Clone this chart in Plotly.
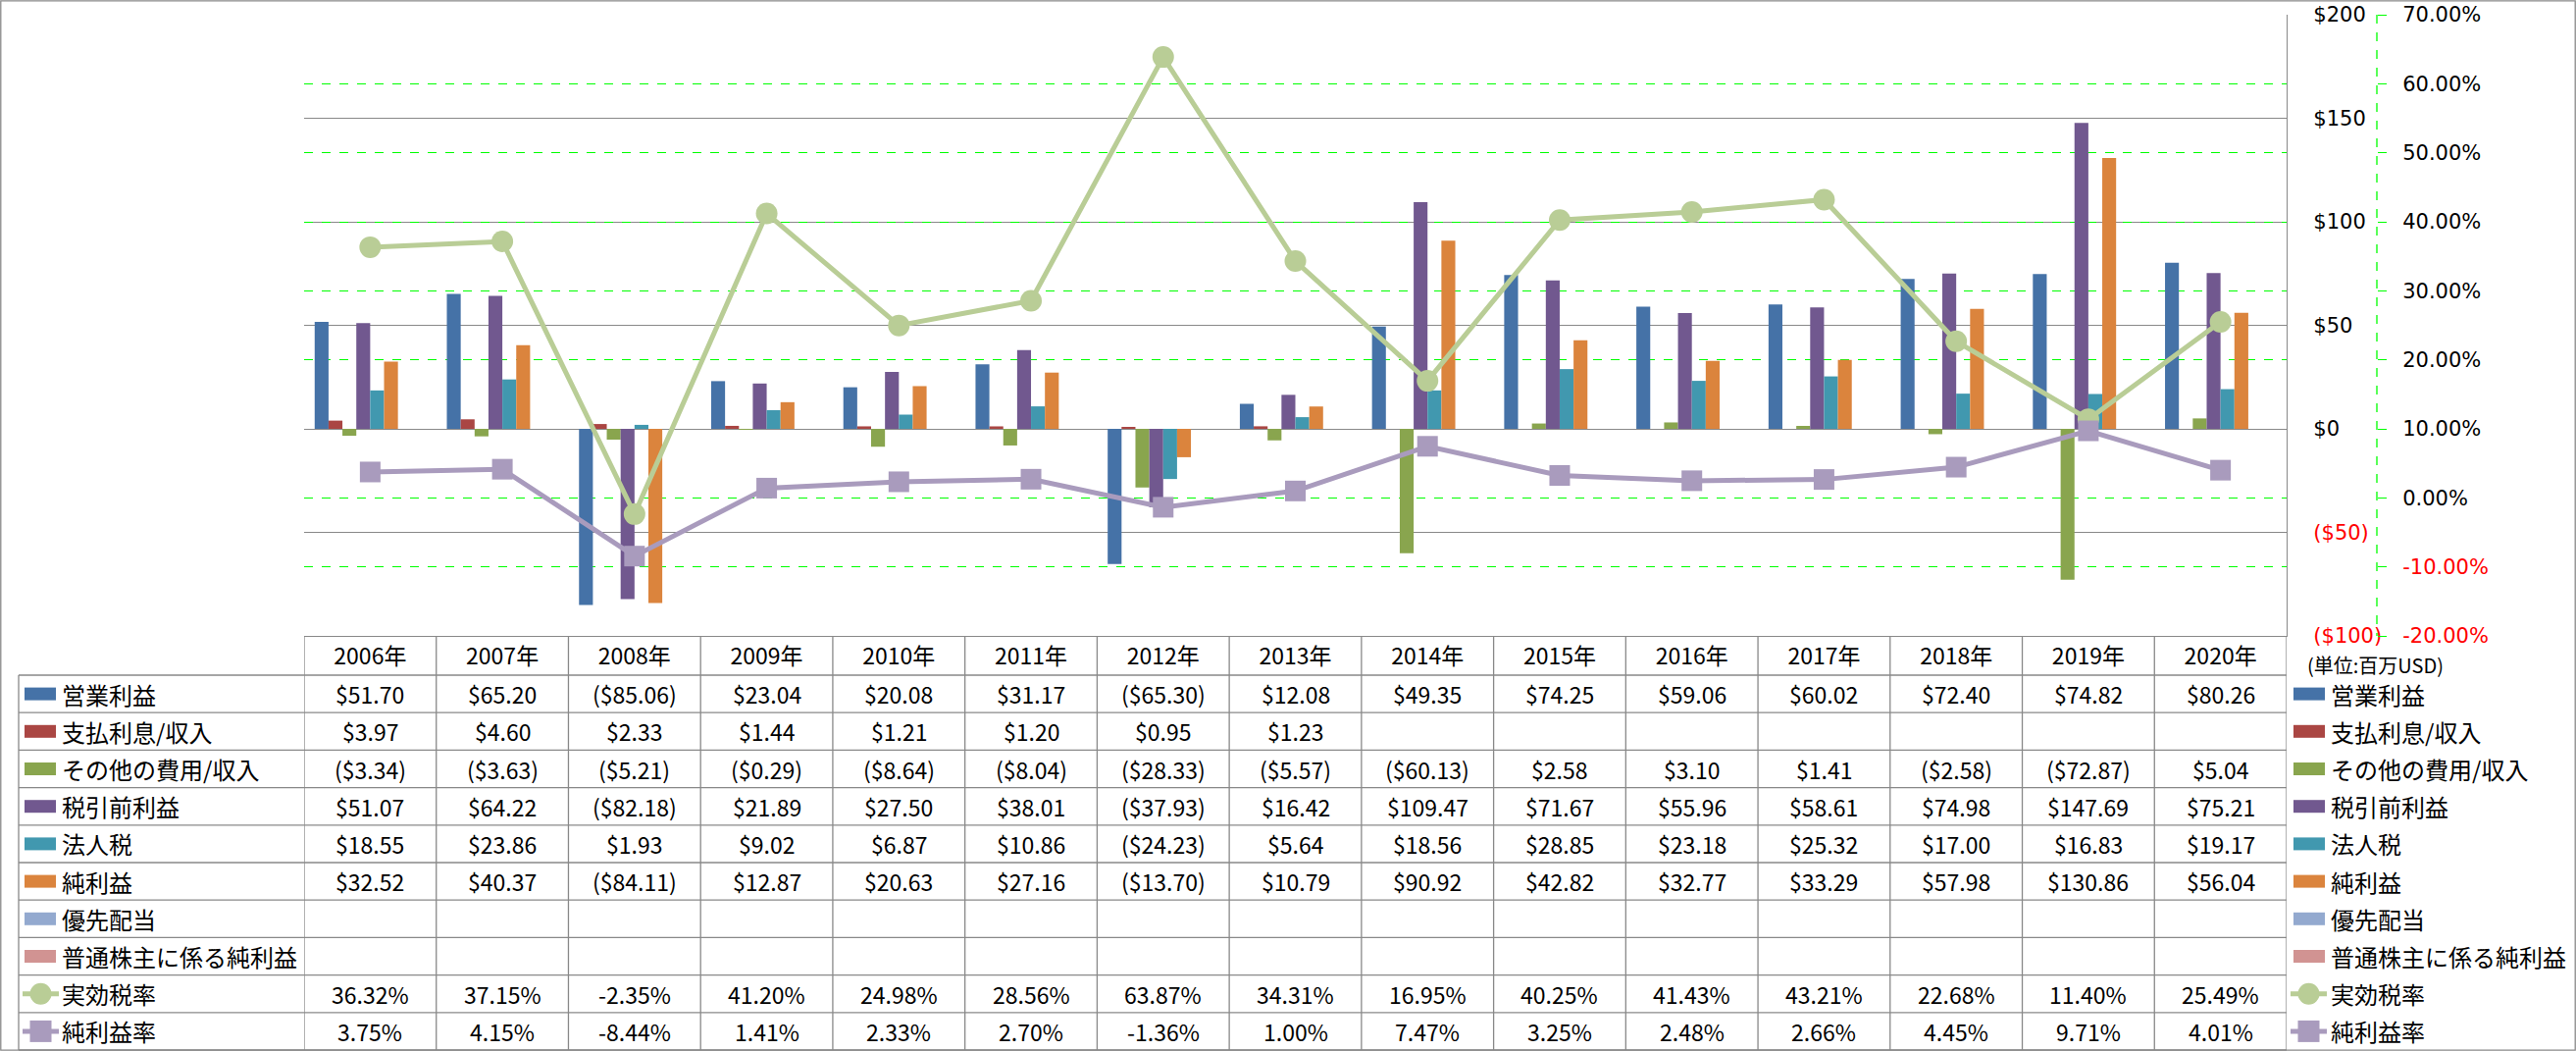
import plotly.graph_objects as go

W, H = 2626, 1071

# ---------------- data ----------------
years = ["2006年", "2007年", "2008年", "2009年", "2010年", "2011年", "2012年", "2013年",
         "2014年", "2015年", "2016年", "2017年", "2018年", "2019年", "2020年"]
op_income = [51.70, 65.20, -85.06, 23.04, 20.08, 31.17, -65.30, 12.08, 49.35, 74.25, 59.06, 60.02, 72.40, 74.82, 80.26]
interest = [3.97, 4.60, 2.33, 1.44, 1.21, 1.20, 0.95, 1.23, None, None, None, None, None, None, None]
other_exp = [-3.34, -3.63, -5.21, -0.29, -8.64, -8.04, -28.33, -5.57, -60.13, 2.58, 3.10, 1.41, -2.58, -72.87, 5.04]
pretax = [51.07, 64.22, -82.18, 21.89, 27.50, 38.01, -37.93, 16.42, 109.47, 71.67, 55.96, 58.61, 74.98, 147.69, 75.21]
income_tax = [18.55, 23.86, 1.93, 9.02, 6.87, 10.86, -24.23, 5.64, 18.56, 28.85, 23.18, 25.32, 17.00, 16.83, 19.17]
net_income = [32.52, 40.37, -84.11, 12.87, 20.63, 27.16, -13.70, 10.79, 90.92, 42.82, 32.77, 33.29, 57.98, 130.86, 56.04]
pref_div = [None] * 15
net_common = [None] * 15
eff_tax_rate = [36.32, 37.15, -2.35, 41.20, 24.98, 28.56, 63.87, 34.31, 16.95, 40.25, 41.43, 43.21, 22.68, 11.40, 25.49]
net_margin = [3.75, 4.15, -8.44, 1.41, 2.33, 2.70, -1.36, 1.00, 7.47, 3.25, 2.48, 2.66, 4.45, 9.71, 4.01]

bar_names = ["営業利益", "支払利息/収入", "その他の費用/収入", "税引前利益", "法人税", "純利益",
             "優先配当", "普通株主に係る純利益"]
bar_values = [op_income, interest, other_exp, pretax, income_tax, net_income, pref_div, net_common]
line_names = ["実効税率", "純利益率"]
line_values = [eff_tax_rate, net_margin]
y_ticks = [-100, -50, 0, 50, 100, 150, 200]
y2_ticks = [-20, -10, 0, 10, 20, 30, 40, 50, 60, 70]
unit_label = "(単位:百万USD)"

# ---------------- styles ----------------
bar_colors = ["#4572A7", "#AA4643", "#89A54E", "#71588F", "#4198AF", "#DB843D", "#93A9CF", "#D19392"]
line_colors = ["#B9CD96", "#A99BBD"]
line_symbols = ["circle", "square"]
GRAY = "#898989"
GREEN = "#00FF00"
FONT = "Noto Sans CJK JP"
AXFONT = "DejaVu Sans"


def px_x(p):
    return p / W


def px_y(p):
    return 1 - p / H


PLOT_L, PLOT_R, PLOT_T, PLOT_B = 310, 2331, 15, 648
ROW0, ROWH = 688, 38.2
Y2_AXIS_X = 2423


def fmt_usd(v):
    if v is None:
        return ""
    return f"(${abs(v):.2f})" if v < 0 else f"${v:.2f}"


def fmt_pct(v):
    return "" if v is None else f"{v:.2f}%"


def red(s):
    return f"<span style='color:#FF0000'>{s}</span>"


fig = go.Figure()

for name, vals, col in zip(bar_names, bar_values, bar_colors):
    fig.add_trace(go.Bar(x=years, y=vals, name=name, marker=dict(color=col, line=dict(width=0)),
                         yaxis="y", showlegend=False))

for name, vals, col, sym in zip(line_names, line_values, line_colors, line_symbols):
    fig.add_trace(go.Scatter(x=years, y=[v / 100 for v in vals], name=name, yaxis="y2",
                             mode="lines+markers", line=dict(color=col, width=5),
                             marker=dict(symbol=sym, size=22 if sym == "circle" else 21, color=col),
                             showlegend=False))

y_ticktext = [red(f"(${abs(v)})") if v < 0 else f"${v}" for v in y_ticks]
y2_ticktext = [red(f"{v:.2f}%") if v < 0 else f"{v:.2f}%" for v in y2_ticks]

shapes = []
annotations = []

row_names = bar_names + line_names
row_values = [[fmt_usd(v) for v in s] for s in bar_values] + [[fmt_pct(v) for v in s] for s in line_values]
n_rows = len(row_names)
TABLE_B = ROW0 + ROWH * n_rows

# horizontal table lines
for i in range(n_rows + 1):
    yy = ROW0 + ROWH * i
    shapes.append(dict(type="line", xref="paper", yref="paper", x0=px_x(19), x1=px_x(PLOT_R),
                       y0=px_y(yy), y1=px_y(yy), line=dict(color=GRAY, width=1.3)))
# left border of label column
shapes.append(dict(type="line", xref="paper", yref="paper", x0=px_x(19), x1=px_x(19),
                   y0=px_y(ROW0), y1=px_y(TABLE_B), line=dict(color=GRAY, width=1.3)))
# vertical column lines (category boundaries)
for k in range(len(years) + 1):
    shapes.append(dict(type="line", xref="x", yref="paper", x0=k - 0.5, x1=k - 0.5,
                       y0=px_y(PLOT_B), y1=px_y(TABLE_B), line=dict(color=GRAY, width=1.3)))


def legend_icon(idx, rect_x0, line_x0, cy):
    if idx < len(bar_names):
        shapes.append(dict(type="rect", xref="paper", yref="paper", x0=px_x(rect_x0), x1=px_x(rect_x0 + 32),
                           y0=px_y(cy - 6.5), y1=px_y(cy + 6.5), fillcolor=bar_colors[idx],
                           line=dict(width=0)))
    else:
        j = idx - len(bar_names)
        col = line_colors[j]
        shapes.append(dict(type="line", xref="paper", yref="paper", x0=px_x(line_x0), x1=px_x(line_x0 + 37),
                           y0=px_y(cy), y1=px_y(cy), line=dict(color=col, width=5)))
        mx = line_x0 + 18.5
        shapes.append(dict(type="circle" if j == 0 else "rect", xref="paper", yref="paper",
                           x0=px_x(mx - 11), x1=px_x(mx + 11), y0=px_y(cy - 11), y1=px_y(cy + 11),
                           fillcolor=col, line=dict(width=0)))


for i, (name, vals) in enumerate(zip(row_names, row_values)):
    cy = ROW0 + ROWH * (i + 0.5)
    legend_icon(i, 25, 23, cy)
    annotations.append(dict(text=name, xref="paper", yref="paper", x=px_x(61), y=px_y(cy),
                            xanchor="left", yanchor="middle", showarrow=False,
                            font=dict(family=FONT, size=24, color="black")))
    legend_icon(i, 2338, 2335, cy)
    annotations.append(dict(text=name, xref="paper", yref="paper", x=px_x(2374), y=px_y(cy),
                            xanchor="left", yanchor="middle", showarrow=False,
                            font=dict(family=FONT, size=24, color="black")))
    for yr, s in zip(years, vals):
        if s:
            annotations.append(dict(text=s, xref="x", yref="paper", x=yr, y=px_y(cy),
                                    xanchor="center", yanchor="middle", showarrow=False,
                                    font=dict(family=FONT, size=23, color="black")))

annotations.append(dict(text=unit_label, xref="paper", yref="paper", x=px_x(2350), y=px_y(677),
                        xanchor="left", yanchor="middle", showarrow=False,
                        font=dict(family=FONT, size=20, color="black")))

# secondary axis dashed line
shapes.append(dict(type="line", xref="paper", yref="paper", x0=px_x(Y2_AXIS_X), x1=px_x(Y2_AXIS_X),
                   y0=px_y(PLOT_T), y1=px_y(PLOT_B), line=dict(color=GREEN, width=1.3, dash="dash")))
# outer chart border
shapes.append(dict(type="rect", xref="paper", yref="paper", x0=0.0003, x1=0.9997, y0=0.0008, y1=0.9992,
                   line=dict(color=GRAY, width=1.3)))

fig.update_layout(
    template="none",
    width=W, height=H,
    margin=dict(l=0, r=0, t=0, b=0),
    paper_bgcolor="white", plot_bgcolor="rgba(0,0,0,0)",
    barmode="group", bargap=0.16, bargroupgap=0,
    showlegend=False,
    font=dict(family=FONT, color="black"),
    xaxis=dict(domain=[px_x(PLOT_L), px_x(PLOT_R)], type="category", categoryorder="array",
               categoryarray=years, range=[-0.5, len(years) - 0.5], autorange=False,
               showgrid=False, zeroline=False,
               showline=True, linecolor=GRAY, linewidth=1.3, ticks="",
               tickfont=dict(family=FONT, size=23, color="black"), ticklabelstandoff=0,
               automargin=False, anchor="y"),
    yaxis=dict(domain=[px_y(PLOT_B), px_y(PLOT_T)], range=[-100, 200], autorange=False, side="right",
               tickvals=y_ticks, ticktext=y_ticktext, showgrid=True, gridcolor=GRAY, gridwidth=1.3,
               zeroline=True, zerolinecolor=GRAY, zerolinewidth=1.3,
               showline=True, linecolor=GRAY, linewidth=1.3, ticks="",
               tickfont=dict(family=AXFONT, size=21, color="black"), ticklabelstandoff=22,
               automargin=False, anchor="x"),
    yaxis2=dict(overlaying="y", range=[-0.2, 0.7], autorange=False, side="right", anchor="free",
                position=px_x(Y2_AXIS_X), tickvals=[v / 100 for v in y2_ticks], ticktext=y2_ticktext,
                showgrid=True, gridcolor=GREEN, gridwidth=1.3, griddash="dash", zeroline=False,
                showline=False, ticks="outside", ticklen=9, tickcolor=GREEN, tickwidth=1.3,
                tickfont=dict(family=AXFONT, size=21, color="black"), ticklabelstandoff=12,
                automargin=False),
    shapes=shapes,
    annotations=annotations,
)

# remove the default page margin so the figure fills the window exactly
fig.write_html("out.html",
               config={"displayModeBar": False},
               post_script="document.body.style.margin='0';document.body.style.overflow='hidden';")
